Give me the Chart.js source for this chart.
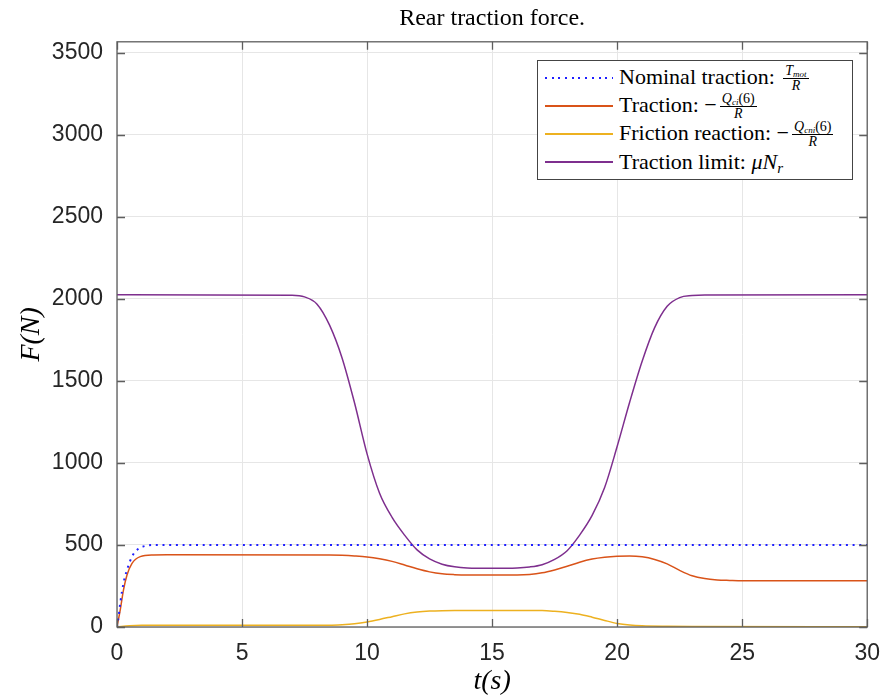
<!DOCTYPE html>
<html>
<head>
<meta charset="utf-8">
<script src="https://cdn.jsdelivr.net/npm/chart.js@4"></script>
<style>
  body { margin: 0; background: #fff; }
  #wrap { position: relative; width: 893px; height: 700px; }
  #legend {
    position: absolute; left: 537px; top: 60px; width: 314px; height: 115px;
    border: 1px solid #444; background: #fff; box-sizing: content-box;
    font-family: "Liberation Serif", serif; font-size: 22px; color: #000;
    padding-top: 3px;
  }
  .row { height: 28px; display: flex; align-items: center; white-space: nowrap; }
  .swatch { display: inline-block; width: 68px; height: 1.5px; margin: 0 6px 0 7px; flex: none; }
  .frac { display: inline-flex; flex-direction: column; align-items: center; font-size: 14px; line-height: 12px; vertical-align: middle; margin-left: 3px; }
  .frac .num { border-bottom: 1px solid #000; padding: 0 2px 1px; }
  .frac .den { padding-top: 1px; }
  i { font-style: italic; }
  sub { font-size: 9px; vertical-align: -2px; line-height: 0; }
</style>
</head>
<body>
<div id="wrap">
  <canvas id="tractionChart" width="893" height="700"></canvas>
  <div id="legend">
    <div class="row"><span class="swatch" style="height:2px;background:repeating-linear-gradient(to right,#1f1fff 0 2px,transparent 2px 6.7px)"></span><span>Nominal traction:&nbsp;<span class="frac"><span class="num"><i>T</i><sub><i>mot</i></sub></span><span class="den"><i>R</i></span></span></span></div>
    <div class="row"><span class="swatch" style="background:#D95319"></span><span>Traction:&nbsp;&minus;<span class="frac"><span class="num"><i>Q</i><sub><i>ci</i></sub>(6)</span><span class="den"><i>R</i></span></span></span></div>
    <div class="row"><span class="swatch" style="background:#EDB120"></span><span>Friction reaction:&nbsp;&minus;<span class="frac"><span class="num"><i>Q</i><sub><i>cni</i></sub>(6)</span><span class="den"><i>R</i></span></span></span></div>
    <div class="row"><span class="swatch" style="background:#7E2F8E"></span><span>Traction limit:&nbsp;<i>&mu;N</i><sub style="font-size:15px;vertical-align:-4px"><i>r</i></sub></span></div>
  </div>
</div>
<script>
// tick labels
const xTicks = [0, 5, 10, 15, 20, 25, 30];
const yTicks = [0, 500, 1000, 1500, 2000, 2500, 3000, 3500];

// nominal traction T_mot / R (dotted blue)
const nominalT = [0, 0.07, 0.13, 0.26, 0.4, 0.6, 0.8, 1.13, 1.6, 30];
const nominalF = [0, 70, 146, 268, 348, 429, 470, 494, 500, 500];

// traction -Q_ci(6)/R
const tractionT = [0, 0.13, 0.26, 0.4, 0.6, 0.93, 1.46, 2, 8.5, 9, 9.5, 10, 10.5, 11, 11.5, 12, 12.5, 13, 13.5, 14, 16, 16.5, 17, 17.5, 18, 18.5, 19, 19.5, 20, 20.5, 21, 21.5, 22, 22.5, 23, 23.5, 24, 24.5, 25, 30];
const tractionF = [0, 104, 226, 317, 388, 429, 439, 440, 439, 437, 433, 427, 416, 400, 378, 355, 336, 324, 319, 317, 317, 320, 330, 348, 370, 395, 414, 425, 431, 433, 428, 412, 385, 345, 312, 295, 287, 284, 282, 282];

// friction reaction -Q_cni(6)/R
const frictionT = [0, 0.5, 1, 8.5, 9, 9.5, 10, 10.5, 11, 11.5, 12, 12.5, 13, 13.5, 17, 17.5, 18, 18.5, 19, 19.5, 20, 20.5, 21, 22, 23, 30];
const frictionF = [0, 8, 10, 11, 14, 20, 31, 46, 63, 80, 91, 97, 99.5, 100, 100, 96, 89, 78, 60, 40, 22, 12, 7, 4, 3, 2];

// traction limit mu*N_r
const limitT = [0, 7, 7.5, 8, 8.5, 9, 9.5, 10, 10.5, 11, 11.5, 12, 12.5, 13, 13.5, 14, 15, 16, 16.5, 17, 17.5, 18, 18.5, 19, 19.5, 20, 20.5, 21, 21.5, 22, 22.5, 23, 23.5, 30];
const limitF = [2025, 2022, 2012, 1968, 1840, 1640, 1365, 1055, 815, 668, 560, 470, 415, 383, 367, 360, 358, 360, 366, 380, 412, 465, 560, 680, 850, 1100, 1370, 1620, 1825, 1955, 2008, 2020, 2024, 2025];

function toPoints(ts, fs) {
    return ts.map((t, i) => ({ x: t, y: fs[i] }));
}

// MATLAB style box with inward ticks on all four sides
const boxPlugin = {
    id: 'box',
    afterDatasetsDraw(chart) {
        const { ctx, chartArea: a, scales: { x, y } } = chart;
        ctx.save();
        ctx.strokeStyle = '#5e5e5e';
        ctx.lineWidth = 1.3;
        ctx.beginPath();
        xTicks.forEach(v => {
            const px = Math.round(x.getPixelForValue(v)) + 0.5;
            ctx.moveTo(px, a.bottom); ctx.lineTo(px, a.bottom - 8);
            ctx.moveTo(px, a.top); ctx.lineTo(px, a.top + 8);
        });
        yTicks.forEach(v => {
            const py = Math.round(y.getPixelForValue(v)) + 0.5;
            ctx.moveTo(a.left, py); ctx.lineTo(a.left + 8, py);
            ctx.moveTo(a.right, py); ctx.lineTo(a.right - 8, py);
        });
        ctx.stroke();
        ctx.strokeRect(a.left, a.top, a.right - a.left, a.bottom - a.top);
        ctx.restore();
    }
};

const ctx = document.getElementById('tractionChart').getContext('2d');
new Chart(ctx, {
    type: 'line',
    data: {
        datasets: [
            {
                label: 'Nominal traction',
                data: toPoints(nominalT, nominalF),
                borderColor: '#1f1fff',
                borderWidth: 2,
                borderDash: [2, 4.7]
            },
            {
                label: 'Traction',
                data: toPoints(tractionT, tractionF),
                borderColor: '#D95319',
                borderWidth: 1.5
            },
            {
                label: 'Friction reaction',
                data: toPoints(frictionT, frictionF),
                borderColor: '#EDB120',
                borderWidth: 1.5
            },
            {
                label: 'Traction limit',
                data: toPoints(limitT, limitF),
                borderColor: '#7E2F8E',
                borderWidth: 1.5
            }
        ]
    },
    options: {
        responsive: false,
        animation: false,
        parsing: false,
        elements: {
            point: { radius: 0 },
            line: { cubicInterpolationMode: 'monotone', fill: false }
        },
        layout: { padding: { top: 0, right: 21, left: 0, bottom: 0 } },
        scales: {
            x: {
                type: 'linear',
                min: 0,
                max: 30,
                afterBuildTicks: s => { s.ticks = xTicks.map(v => ({ value: v })); },
                afterFit: s => { s.height = 73; },
                grid: { color: '#e6e6e6', drawTicks: false },
                border: { display: false },
                ticks: {
                    padding: 13,
                    maxRotation: 0,
                    color: '#262626',
                    callback: v => String(v),
                    font: { family: '"Liberation Sans", Arial, sans-serif', size: 23 }
                },
                title: {
                    display: true,
                    text: 't(s)',
                    color: '#000',
                    padding: { top: 0, bottom: 4 },
                    font: { family: '"Liberation Serif", serif', size: 28, style: 'italic', lineHeight: 1 }
                }
            },
            y: {
                min: 0,
                max: 3567,
                afterBuildTicks: s => { s.ticks = yTicks.map(v => ({ value: v })); },
                afterFit: s => { s.width = 117; },
                grid: { color: '#e6e6e6', drawTicks: false },
                border: { display: false },
                ticks: {
                    padding: 14,
                    color: '#262626',
                    callback: v => String(v),
                    font: { family: '"Liberation Sans", Arial, sans-serif', size: 23 }
                },
                title: {
                    display: true,
                    text: 'F(N)',
                    color: '#000',
                    padding: { top: 18, bottom: 0 },
                    font: { family: '"Liberation Serif", serif', size: 28, style: 'italic', lineHeight: 1 }
                }
            }
        },
        plugins: {
            legend: { display: false },
            tooltip: { enabled: false },
            title: {
                display: true,
                text: 'Rear traction force.',
                fullSize: false,
                color: '#000',
                padding: { top: 4, bottom: 9 },
                font: { family: '"Liberation Serif", serif', size: 24, weight: 'normal', lineHeight: 1.2 }
            }
        }
    },
    plugins: [boxPlugin]
});
</script>
</body>
</html>
